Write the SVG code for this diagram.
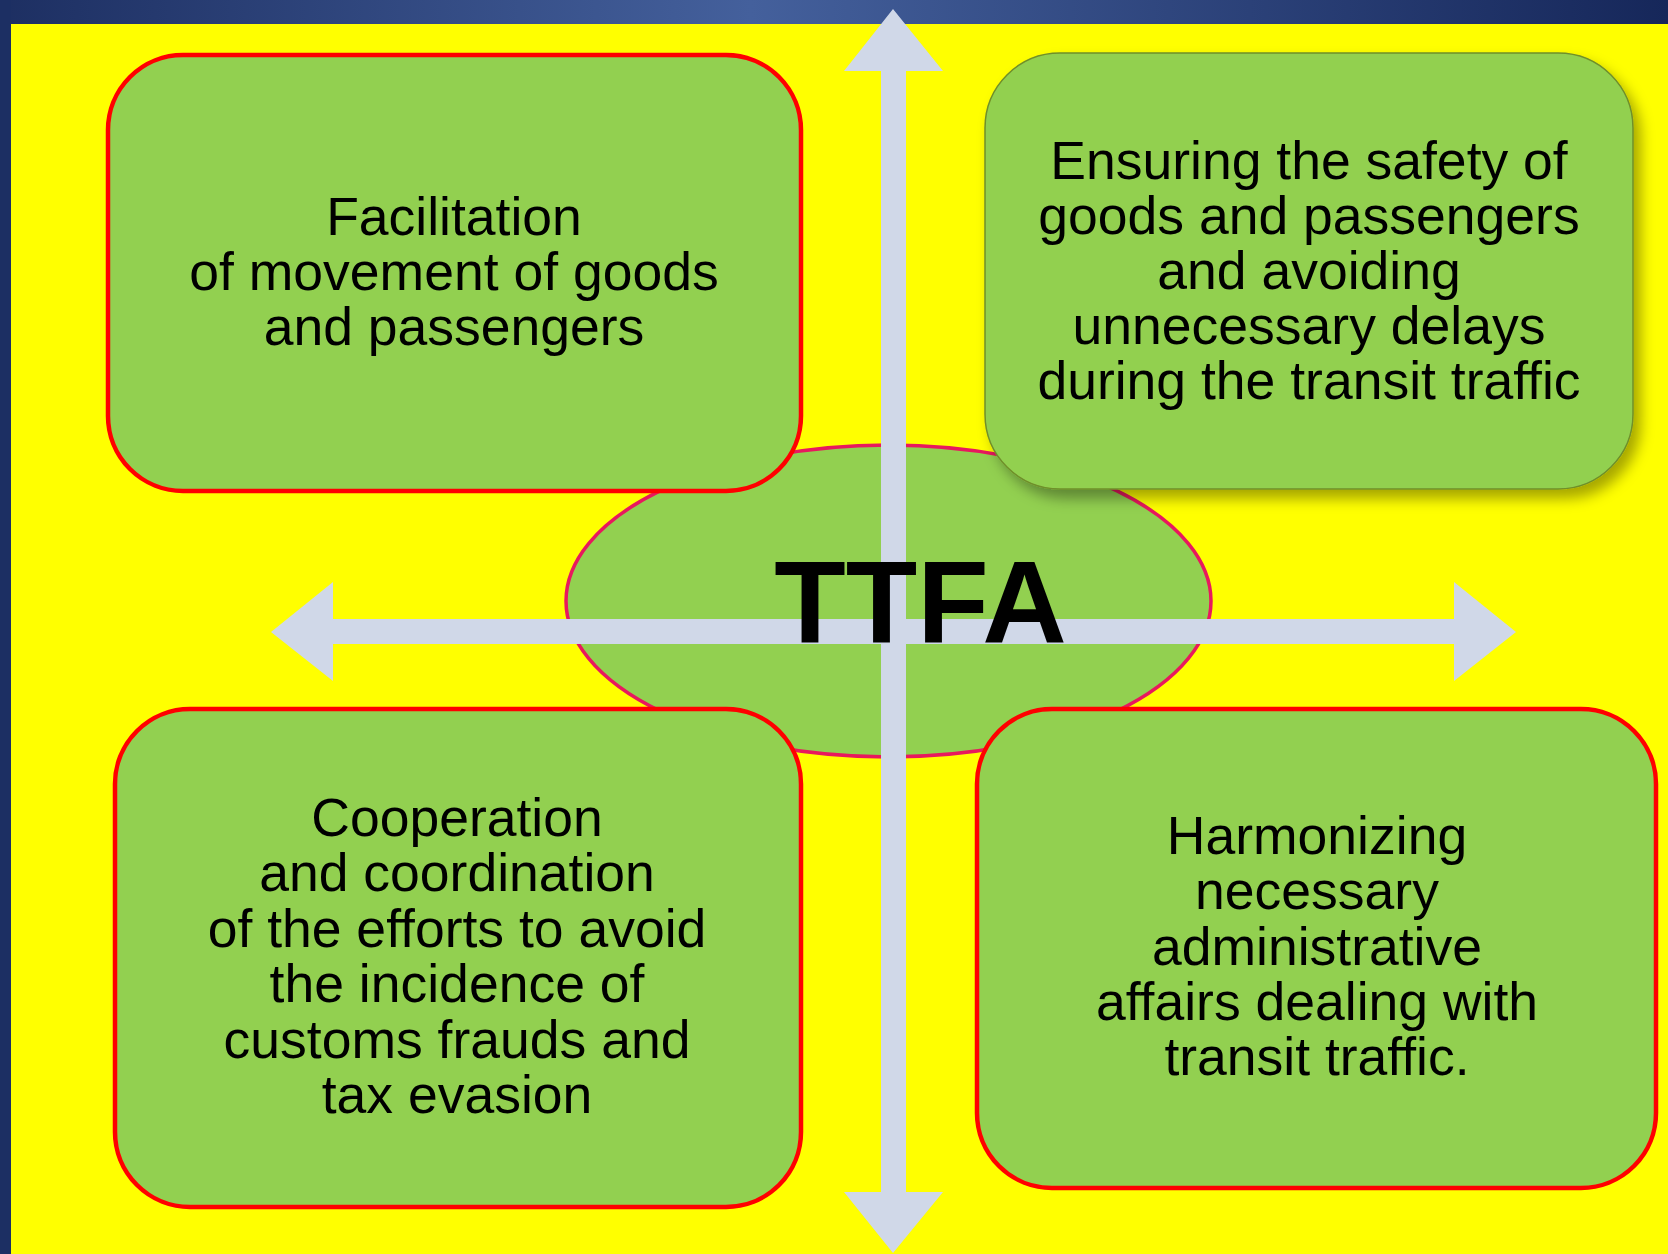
<svg xmlns="http://www.w3.org/2000/svg" width="1668" height="1254" viewBox="0 0 1668 1254">
<style>
.box{fill:#92d050;stroke:#ff0000;stroke-width:4.5}
.box2{fill:#92d050;stroke:#6f8f2a;stroke-width:1.5}
.t{font-family:"Liberation Sans",Arial,sans-serif;font-size:53.5px;fill:#000;text-anchor:middle}
.arr{fill:#d0d8e8}
</style>
<defs>
<linearGradient id="bar" x1="0" y1="0" x2="1" y2="0">
<stop offset="0" stop-color="#1d2f62"/>
<stop offset="0.45" stop-color="#44609c"/>
<stop offset="1" stop-color="#16275a"/>
</linearGradient>
<filter id="sh" x="-10%" y="-10%" width="125%" height="130%">
<feDropShadow dx="7" dy="9" stdDeviation="7" flood-color="#000" flood-opacity="0.35"/>
</filter>
</defs>
<rect x="0" y="0" width="1668" height="1254" fill="#ffff00"/>
<rect x="0" y="0" width="1668" height="24" fill="url(#bar)"/>
<rect x="0" y="0" width="11" height="1254" fill="#1c2f63"/>
<g id="center">
<ellipse cx="888.5" cy="601" rx="322.5" ry="156" fill="#92d050" stroke="#e8185e" stroke-width="3.5"/>
</g>
<g id="node-facilitation">
<rect class="box" x="108" y="55" width="693" height="436" rx="75" ry="75"/>
<text class="t"><tspan x="454" y="235">Facilitation</tspan><tspan x="454" y="290">of movement of goods</tspan><tspan x="454" y="345">and passengers</tspan></text>
</g>
<g id="node-safety">
<rect class="box2" x="985" y="53" width="648" height="436" rx="75" ry="75" filter="url(#sh)"/>
<text class="t"><tspan x="1309" y="179">Ensuring the safety of</tspan><tspan x="1309" y="234">goods and passengers</tspan><tspan x="1309" y="289">and avoiding</tspan><tspan x="1309" y="344">unnecessary delays</tspan><tspan x="1309" y="399">during the transit traffic</tspan></text>
</g>
<g id="node-cooperation">
<rect class="box" x="115" y="709" width="686" height="498" rx="75" ry="75"/>
<text class="t"><tspan x="457" y="836">Cooperation</tspan><tspan x="457" y="891">and coordination</tspan><tspan x="457" y="947">of the efforts to avoid</tspan><tspan x="457" y="1002">the incidence of</tspan><tspan x="457" y="1058">customs frauds and</tspan><tspan x="457" y="1113">tax evasion</tspan></text>
</g>
<g id="node-harmonizing">
<rect class="box" x="977" y="709" width="679" height="479" rx="75" ry="75"/>
<text class="t"><tspan x="1317" y="854">Harmonizing</tspan><tspan x="1317" y="909">necessary</tspan><tspan x="1317" y="965">administrative</tspan><tspan x="1317" y="1020">affairs dealing with</tspan><tspan x="1317" y="1075">transit traffic.</tspan></text>
</g>
<g id="connectors">
<polygon class="arr" points="893,9 943,71 906,71 906,1192 943,1192 893,1253 844,1192 881,1192 881,71 844,71"/>
<polygon class="arr" points="271,632 333,582 333,619 1454,619 1454,582 1516,632 1454,681 1454,644 333,644 333,681"/>
</g>
<g id="label-ttfa">
<text x="920.5" y="643" font-family="Liberation Sans,Arial,sans-serif" font-weight="bold" font-size="117" text-anchor="middle" fill="#000">TTFA</text>
</g>
</svg>
